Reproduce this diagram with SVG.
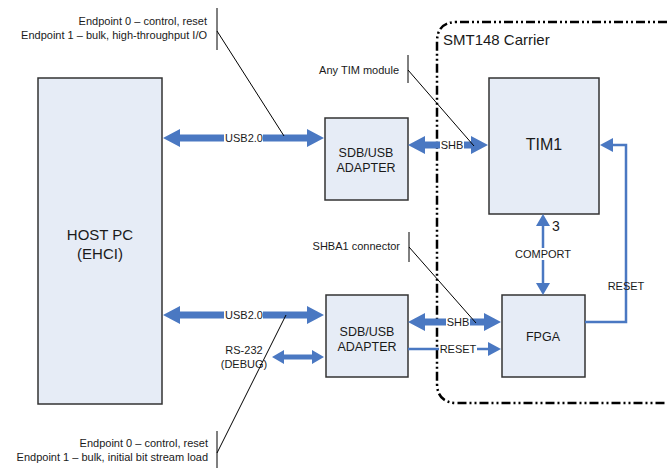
<svg xmlns="http://www.w3.org/2000/svg" width="667" height="468" viewBox="0 0 667 468">
<style>
text{font-family:"Liberation Sans",Arial,sans-serif;fill:#1a1a1a}
.box{fill:#E6ECF6;stroke:#333;stroke-width:1.5}
.arr{fill:#4A78C2}
.ln{stroke:#4A78C2;stroke-width:2.5;fill:none}
.ann{stroke:#000;stroke-width:1;fill:none}
.s{font-size:11px}
.m{font-size:12.5px}
.lbl{fill:#fff}
</style>
<rect width="667" height="468" fill="#fff"/>
<!-- carrier -->
<path d="M667 22 H457 Q437 22 437 42 V383 Q437 403 457 403 H667" fill="none" stroke="#000" stroke-width="2.5" stroke-dasharray="9 3 2 3 2 3"/>
<text x="443" y="45" style="font-size:15px">SMT148 Carrier</text>

<g id="hostpc"><rect class="box" x="38" y="78" width="124" height="326"/>
<text x="100" y="240" text-anchor="middle" style="font-size:15px">HOST PC</text>
<text x="100" y="259" text-anchor="middle" style="font-size:15px">(EHCI)</text></g>

<g id="adapter1"><rect class="box" x="325" y="118" width="83" height="82"/>
<text x="366" y="157" text-anchor="middle" class="m">SDB/USB</text>
<text x="366" y="172" text-anchor="middle" class="m">ADAPTER</text></g>

<g id="adapter2"><rect class="box" x="326" y="295" width="82" height="82"/>
<text x="367" y="336" text-anchor="middle" class="m">SDB/USB</text>
<text x="367" y="351" text-anchor="middle" class="m">ADAPTER</text></g>

<g id="tim1"><rect class="box" x="489" y="78" width="110" height="136"/>
<text x="544" y="150" text-anchor="middle" style="font-size:16px">TIM1</text></g>

<g id="fpga"><rect class="box" x="502" y="295" width="83" height="82"/>
<text x="543" y="341" text-anchor="middle" class="m">FPGA</text></g>

<g id="connectors">
<!-- top USB -->
<polygon class="arr" points="163,138 180,129 180,134.5 307,134.5 307,129 324,138 307,147 307,141.5 180,141.5 180,147"/>
<rect class="lbl" x="224" y="131" width="39" height="13"/>
<text x="244" y="142" text-anchor="middle" class="s">USB2.0</text>
<!-- top SHB -->
<polygon class="arr" points="408,145 425,136 425,141.5 471,141.5 471,136 488,145 471,154 471,148.5 425,148.5 425,154"/>
<rect class="lbl" x="440" y="138" width="24" height="13"/>
<text x="452" y="149" text-anchor="middle" class="s">SHB</text>
<!-- bottom USB -->
<polygon class="arr" points="163,315 180,306 180,311.5 307,311.5 307,306 324,315 307,324 307,318.5 180,318.5 180,324"/>
<rect class="lbl" x="224" y="308" width="39" height="13"/>
<text x="244" y="319" text-anchor="middle" class="s">USB2.0</text>
<!-- RS-232 -->
<polygon class="arr" points="272,357 284,350 284,354.5 312,354.5 312,350 324,357 312,364 312,359.5 284,359.5 284,364"/>
<text x="244" y="354" text-anchor="middle" class="s">RS-232</text>
<text x="244" y="368" text-anchor="middle" class="s">(DEBUG)</text>
<!-- bottom SHB -->
<polygon class="arr" points="408,322 425,313 425,318.5 484,318.5 484,313 501,322 484,331 484,325.5 425,325.5 425,331"/>
<rect class="lbl" x="446" y="315" width="24" height="13"/>
<text x="458" y="326" text-anchor="middle" class="s">SHB</text>
<!-- RESET to FPGA -->
<line class="ln" x1="408" y1="349" x2="490" y2="349"/>
<polygon class="arr" points="501,349 488,342 488,356"/>
<rect class="lbl" x="439" y="342" width="38" height="13"/>
<text x="458" y="353" text-anchor="middle" class="s">RESET</text>
<!-- COMPORT -->
<line class="ln" x1="543" y1="224" x2="543" y2="285"/>
<polygon class="arr" points="543,214 536,226 550,226"/>
<polygon class="arr" points="543,295 536,283 550,283"/>
<rect class="lbl" x="513" y="248" width="60" height="12"/>
<text x="543" y="258" text-anchor="middle" class="s">COMPORT</text>
<text x="552" y="231" style="font-size:14px">3</text>
<!-- RESET FPGA -> TIM1 -->
<polyline class="ln" points="585,322 626,322 626,145 611,145"/>
<polygon class="arr" points="600,145 613,138 613,152"/>
<text x="626" y="290" text-anchor="middle" class="s">RESET</text>
</g>

<g id="annotations">
<text x="207" y="25" text-anchor="end" class="s">Endpoint 0 – control, reset</text>
<text x="207" y="39" text-anchor="end" class="s">Endpoint 1 – bulk, high-throughput I/O</text>
<line class="ann" x1="217" y1="8" x2="217" y2="50"/>
<line class="ann" x1="217" y1="31" x2="284" y2="136"/>

<text x="399" y="74" text-anchor="end" class="s">Any TIM module</text>
<line class="ann" x1="408" y1="55" x2="408" y2="83"/>
<line class="ann" x1="408" y1="70" x2="474" y2="146"/>

<text x="400" y="250" text-anchor="end" class="s">SHBA1 connector</text>
<line class="ann" x1="409" y1="232" x2="409" y2="262"/>
<line class="ann" x1="409" y1="247" x2="476" y2="323"/>

<text x="208" y="447" text-anchor="end" class="s">Endpoint 0 – control, reset</text>
<text x="208" y="461" text-anchor="end" class="s">Endpoint 1 – bulk, initial bit stream load</text>
<line class="ann" x1="217" y1="431" x2="217" y2="468"/>
<line class="ann" x1="217" y1="453" x2="286" y2="315"/>
</g>
</svg>
